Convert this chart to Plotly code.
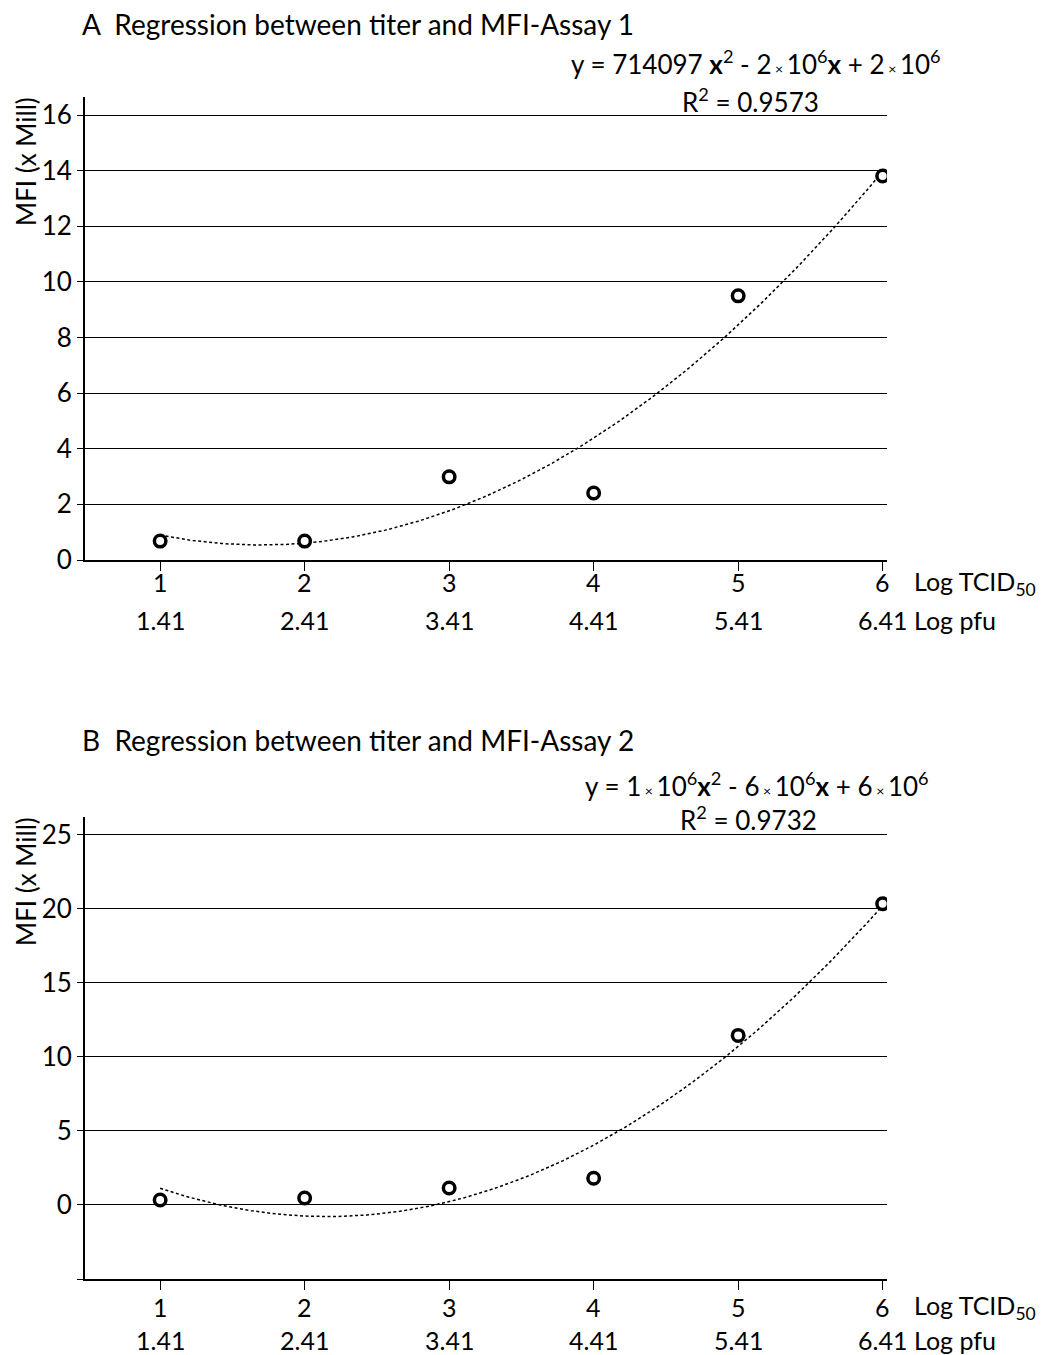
import numpy as np
import plotly.graph_objects as go

# ---- data ----
titer_log_tcid50 = [1, 2, 3, 4, 5, 6]
titer_tick_labels = ["1", "2", "3", "4", "5", "6"]
titer_log_pfu = ["1.41", "2.41", "3.41", "4.41", "5.41", "6.41"]
mfi_assay1 = [0.68, 0.68, 2.99, 2.41, 9.50, 13.81]
mfi_assay2 = [0.34, 0.47, 1.15, 1.80, 11.45, 20.34]

title_a = "A  Regression between titer and MFI-Assay 1"
title_b = "B  Regression between titer and MFI-Assay 2"
X = "<span style='font-size:14px'> × </span>"
eq_a = "y = 714097 <b>x</b><sup>2</sup> - 2" + X + "10<sup>6</sup><b>x</b> + 2" + X + "10<sup>6</sup>"
r2_a = "R<sup>2</sup> = 0.9573"
eq_b = "y = 1" + X + "10<sup>6</sup><b>x</b><sup>2</sup> - 6" + X + "10<sup>6</sup><b>x</b> + 6" + X + "10<sup>6</sup>"
r2_b = "R<sup>2</sup> = 0.9732"

FONT = "Lato"
W, H = 1046, 1355
L, R = 85, 887

def fy(px):
    return 1 - px / H

fig = go.Figure()

def add_panel(xa, ya, yvals):
    xs = np.array(titer_log_tcid50, dtype=float)
    coef = np.polyfit(xs, np.array(yvals), 2)
    xf = np.linspace(xs.min(), xs.max(), 200)
    yf = np.polyval(coef, xf)
    fig.add_trace(go.Scatter(x=xf, y=yf, mode="lines", xaxis=xa, yaxis=ya,
                             line=dict(color="black", width=1.5, dash="3px,2.5px"),
                             hoverinfo="skip", showlegend=False))
    fig.add_trace(go.Scatter(x=titer_log_tcid50, y=yvals, mode="markers", xaxis=xa, yaxis=ya,
                             marker=dict(symbol="circle", size=11.5, color="white",
                                         line=dict(color="black", width=3.5)),
                             showlegend=False))

add_panel("x", "y", mfi_assay1)
add_panel("x2", "y2", mfi_assay2)

yaxis_font = dict(family=FONT, size=26, color="black")
xcommon = dict(range=[0.48, 6.03], tickmode="array", tickvals=titer_log_tcid50,
               showticklabels=False, ticks="outside", ticklen=9, tickwidth=1,
               tickcolor="black", showgrid=False, zeroline=False, showline=True,
               linecolor="black", linewidth=2, domain=[L / W, R / W])
ycommon = dict(ticks="outside", ticklen=6, tickwidth=1, tickcolor="black",
               showgrid=True, gridcolor="black", gridwidth=1, zeroline=False,
               showline=True, linecolor="black", linewidth=2, tickfont=yaxis_font)

fig.update_layout(
    width=W, height=H,
    margin=dict(l=0, r=0, t=0, b=0, autoexpand=False),
    paper_bgcolor="white", plot_bgcolor="white",
    font=dict(family=FONT, color="black"),
    xaxis=dict(**xcommon, anchor="y"),
    yaxis=dict(**ycommon, range=[0, 16.65], tickvals=[0, 2, 4, 6, 8, 10, 12, 14, 16],
               domain=[fy(560), fy(97)], anchor="x"),
    xaxis2=dict(**xcommon, anchor="y2"),
    yaxis2=dict(**ycommon, range=[-5, 26.2], tickvals=[-5, 0, 5, 10, 15, 20, 25],
                ticktext=["", "0", "5", "10", "15", "20", "25"],
                domain=[fy(1279), fy(817)], anchor="x2"),
)

ann = []
def text(x, y, s, size, xanchor="left", yanchor="middle", **kw):
    ann.append(dict(x=x, y=y, xref="paper", yref="paper", text=s, showarrow=False,
                    xanchor=xanchor, yanchor=yanchor,
                    font=dict(family=FONT, size=size, color="black"), **kw))

# panel titles
text(80 / W, fy(24), title_a, 28)
text(80 / W, fy(740), title_b, 28)
# regression equations
text(756 / W, fy(62), eq_a, 26, xanchor="center")
text(750 / W, fy(100), r2_a, 26, xanchor="center")
text(757 / W, fy(784), eq_b, 26, xanchor="center")
text(748 / W, fy(818), r2_b, 26, xanchor="center")
# y axis titles
text(26 / W, fy(162), "MFI (x Mill)", 26, xanchor="center", textangle=-90)
text(26 / W, fy(882), "MFI (x Mill)", 26, xanchor="center", textangle=-90)
# x axis row names
text(912 / W, fy(583), "Log TCID<sub>50</sub>", 25)
text(912 / W, fy(620), "Log pfu", 25)
text(912 / W, fy(1307), "Log TCID<sub>50</sub>", 25)
text(912 / W, fy(1340), "Log pfu", 25)

# two rows of x tick labels (log TCID50 and log pfu), placed at data x positions
for xa, row1, row2 in (("x", 582, 620), ("x2", 1307, 1340)):
    for xv, lab1, lab2 in zip(titer_log_tcid50, titer_tick_labels, titer_log_pfu):
        for lab, ypx in ((lab1, row1), (lab2, row2)):
            ann.append(dict(x=xv, y=fy(ypx), xref=xa, yref="paper", text=lab, showarrow=False,
                            xanchor="center", yanchor="middle",
                            font=dict(family=FONT, size=25, color="black")))

fig.update_layout(annotations=ann)
fig.write_html("out.html", config={"displayModeBar": False},
               post_script="document.documentElement.style.margin='0';document.body.style.margin='0';")
